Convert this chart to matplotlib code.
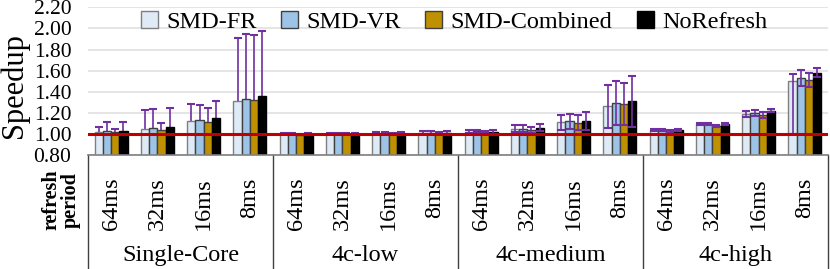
import numpy as np
import matplotlib.pyplot as plt

plt.rcParams['font.family'] = ['Liberation Serif', 'DejaVu Serif']

groups = ["Single-Core", "4c-low", "4c-medium", "4c-high"]
periods = ["64ms", "32ms", "16ms", "8ms"]
series = ["SMD-FR", "SMD-VR", "SMD-Combined", "NoRefresh"]
colors = ["#DEEBF7", "#9DC3E6", "#BF9000", "#000000"]
edges = ["#7F7F7F", "#404040", "#404040", "#000000"]

# speedup per category (group x period), one list per series
fr = [1.02, 1.05, 1.12, 1.31,  1.00, 1.00, 1.005, 1.01,
      1.02, 1.05, 1.11, 1.26,  1.04, 1.09, 1.19, 1.50]
vr = [1.03, 1.06, 1.13, 1.33,  1.00, 1.00, 1.005, 1.01,
      1.025, 1.05, 1.12, 1.29,  1.04, 1.09, 1.20, 1.53]
comb = [1.02, 1.04, 1.11, 1.32,  0.99, 1.00, 1.00, 1.005,
        1.02, 1.04, 1.105, 1.28,  1.025, 1.075, 1.18, 1.51]
nr = [1.03, 1.07, 1.15, 1.36,  1.00, 1.00, 1.005, 1.01,
      1.02, 1.06, 1.125, 1.31,  1.04, 1.095, 1.22, 1.58]

# error bars (lower, upper)
fr_lo = [0.05, 0.18, 0.16, 0.60,  0.005, 0.005, 0.01, 0.015,
         0.015, 0.03, 0.07, 0.20,  0.01, 0.01, 0.03, 0.50]
fr_hi = [0.05, 0.18, 0.16, 0.60,  0.005, 0.005, 0.01, 0.015,
         0.015, 0.03, 0.07, 0.20,  0.01, 0.01, 0.03, 0.07]
vr_err = [0.08, 0.18, 0.14, 0.62,  0.005, 0.005, 0.01, 0.015,
          0.015, 0.035, 0.07, 0.21,  0.01, 0.01, 0.03, 0.077]
comb_err = [0.03, 0.065, 0.14, 0.62,  0.005, 0.005, 0.01, 0.015,
            0.01, 0.03, 0.07, 0.20,  0.01, 0.01, 0.03, 0.07]
nr_err = [0.08, 0.18, 0.16, 0.62,  0.005, 0.005, 0.01, 0.015,
          0.02, 0.035, 0.085, 0.24,  0.01, 0.01, 0.015, 0.045]

values = [fr, vr, comb, nr]
lows = [fr_lo, vr_err, comb_err, nr_err]
highs = [fr_hi, vr_err, comb_err, nr_err]

fig = plt.figure(figsize=(8.3, 2.69), dpi=100)
ax = fig.add_axes([88/830, (269-155)/269, 740/830, (155-7.3)/269])

n = len(groups) * len(periods)
x = np.arange(n) + 0.5
w = 0.178
for k in range(4):
    ax.bar(x + (k - 1.5) * w, values[k], w, bottom=0, color=colors[k],
           edgecolor=edges[k], linewidth=1.0, label=series[k], zorder=2)
for k in range(4):
    xs = x + (k - 1.5) * w
    v = np.array(values[k])
    lo = np.array(lows[k])
    hi = np.array(highs[k])
    # single-core error bars sit behind the bars, the rest in front
    ax.errorbar(xs[:4], v[:4], yerr=[lo[:4], hi[:4]], fmt='none',
                ecolor='#7030A0', elinewidth=1.2, capsize=3, capthick=1.5, zorder=1.5)
    ax.errorbar(xs[4:], v[4:], yerr=[lo[4:], hi[4:]], fmt='none',
                ecolor='#7030A0', elinewidth=1.2, capsize=3, capthick=1.5, zorder=3)

ax.axhline(1.0, color='#C00000', linewidth=2.2, zorder=4)

ax.set_xlim(0, n)
ax.set_ylim(0.8, 2.2)
ticks = np.arange(0.8, 2.21, 0.2)
ax.set_yticks(ticks)
ax.set_yticklabels(["%.2f" % v for v in ticks], fontsize=15.5)
ax.yaxis.grid(True, color='#E0E0E0', linewidth=1.2, zorder=0)
ax.set_axisbelow(True)
ax.tick_params(axis='y', length=0, pad=12)
ax.set_xticks(x)
ax.set_xticklabels(periods * len(groups), rotation=90, fontsize=17.5, va='top')
ax.tick_params(axis='x', length=0, pad=16)
for s in ['top', 'right', 'left']:
    ax.spines[s].set_visible(False)
ax.spines['bottom'].set_color('#7F7F7F')
ax.spines['bottom'].set_linewidth(1.2)

ax.set_ylabel("Speedup", fontsize=22)
ax.yaxis.set_label_coords((29 - 88) / 740, 0.47)

# group separators and labels
tr = ax.get_xaxis_transform()
for i in range(len(groups) + 1):
    ax.plot([i * 4, i * 4], [0, -0.78], color='#404040', linewidth=1.0,
            transform=tr, clip_on=False)
for i, g in enumerate(groups):
    ax.text(i * 4 + 2, -0.68, g, transform=tr, ha='center', va='center', fontsize=17.5)

fig.text(61/830, 1 - 200/269, "refresh\nperiod", rotation=90, fontsize=14.5,
         fontweight='bold', ha='center', va='center', linespacing=1.0)

ax.legend(loc='upper left', bbox_to_anchor=(38/740, 1.075), ncol=4, frameon=False,
          fontsize=17.5, handlelength=0.7, handleheight=0.7, handletextpad=0.35,
          columnspacing=1.0, borderpad=0.1)

fig.savefig("out.png", dpi=100)
